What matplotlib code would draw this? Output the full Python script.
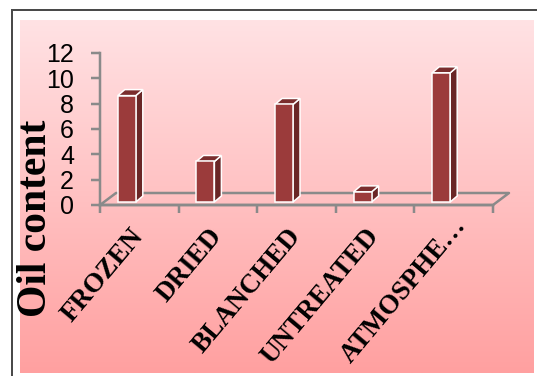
import numpy as np
import matplotlib
matplotlib.use('Agg')
import matplotlib.pyplot as plt
from matplotlib.patches import Polygon, Rectangle
from matplotlib.lines import Line2D

categories = ['FROZEN', 'DRIED', 'BLANCHED', 'UNTREATED', 'ATMOSPHE…']
oil_content = [8.4, 3.2, 7.7, 0.8, 10.2]
y_ticks = [0, 2, 4, 6, 8, 10, 12]

W, H = 537, 376
PX = 72 / 100  # points per pixel at 100 dpi
AXIS_GREY = '#8a8a8a'
FRONT = '#9b3b3b'
SIDE = '#6a2626'
TOP = '#7a2d2d'

fig = plt.figure(figsize=(W / 100, H / 100), dpi=100)
fig.patch.set_facecolor('white')

# pink gradient panel behind the chart
bg = fig.add_axes([20 / W, 3 / H, 514 / W, 353 / H])
top_c = np.array([255, 226, 228]) / 255
bot_c = np.array([255, 160, 160]) / 255
t = np.linspace(0, 1, 256)[:, None, None]
bg.imshow(top_c + (bot_c - top_c) * t, aspect='auto', extent=[0, 1, 0, 1])
bg.axis('off')

# outer frame (left and top edges)
fig.add_artist(Line2D([12 / W, 12 / W], [0, 1 - 10 / H], color='#4a4a4a', lw=2 * PX))
fig.add_artist(Line2D([12 / W, 1], [1 - 10 / H, 1 - 10 / H], color='#4a4a4a', lw=2 * PX))

ax = fig.add_axes([100 / W, (H - 205) / H, 393 / W, 152 / H])
ax.set_xlim(0, len(categories))
ax.set_ylim(0, 12)
ax.patch.set_alpha(0)

# data units per pixel, used for the fake 3D depth
sx = len(categories) / (ax.get_position().width * W)
sy = 12 / (ax.get_position().height * H)

# floor outline
fdx, fdy = 16 * sx, 12 * sy
n = len(categories)
ax.plot([0, n, n + fdx, fdx, 0], [0, 0, fdy, fdy, 0], color=AXIS_GREY, lw=2.5 * PX,
        clip_on=False, zorder=1)

# columns with side and top faces
w = 18 * sx
dx, dy = 7 * sx, 6 * sy
shift = 12.5 * sx
y0 = 3 * sy
for i, v in enumerate(oil_content):
    x0 = i + 0.5 - shift - w / 2
    x1 = x0 + w
    ax.add_patch(Polygon([(x1, y0), (x1 + dx, y0 + dy), (x1 + dx, y0 + v + dy), (x1, y0 + v)],
                         closed=True, facecolor=SIDE, edgecolor='white', lw=1.5 * PX,
                         clip_on=False, zorder=3))
    ax.add_patch(Polygon([(x0, y0 + v), (x1, y0 + v), (x1 + dx, y0 + v + dy), (x0 + dx, y0 + v + dy)],
                         closed=True, facecolor=TOP, edgecolor='white', lw=1.5 * PX,
                         clip_on=False, zorder=3))
    ax.add_patch(Rectangle((x0, y0), w, v, facecolor=FRONT, edgecolor='white', lw=1.5 * PX,
                           clip_on=False, zorder=4))

for s in ['top', 'right']:
    ax.spines[s].set_visible(False)
for s in ['left', 'bottom']:
    ax.spines[s].set_color(AXIS_GREY)
    ax.spines[s].set_linewidth(2.5 * PX)

ax.set_xticks(range(n + 1))
ax.set_xticklabels([])
ax.tick_params(axis='x', direction='out', length=8 * PX, width=2.5 * PX, color=AXIS_GREY)
ax.set_yticks(y_ticks)
ax.set_yticklabels([str(v) for v in y_ticks], family='Liberation Sans', fontsize=18)
ax.tick_params(axis='y', direction='out', length=9 * PX, width=2.5 * PX, color=AXIS_GREY,
               pad=17 * PX)

# category labels; the truncated last one sits a little higher
for i, name in enumerate(categories):
    ox, oy = (0, -27) if not name.endswith('…') else (8, -16)
    ax.annotate(name, xy=(i + 0.5, 0), xytext=(ox, oy), textcoords='offset pixels',
                rotation=50, rotation_mode='anchor', ha='right', va='center',
                family='Liberation Serif', fontweight='bold', fontsize=19.5,
                annotation_clip=False)

fig.text(36 / W, 1 - 218 / H, 'Oil content', rotation=90, ha='center', va='center',
         family='Liberation Serif', fontweight='bold', fontsize=30)

fig.savefig('out.png', dpi=100)
